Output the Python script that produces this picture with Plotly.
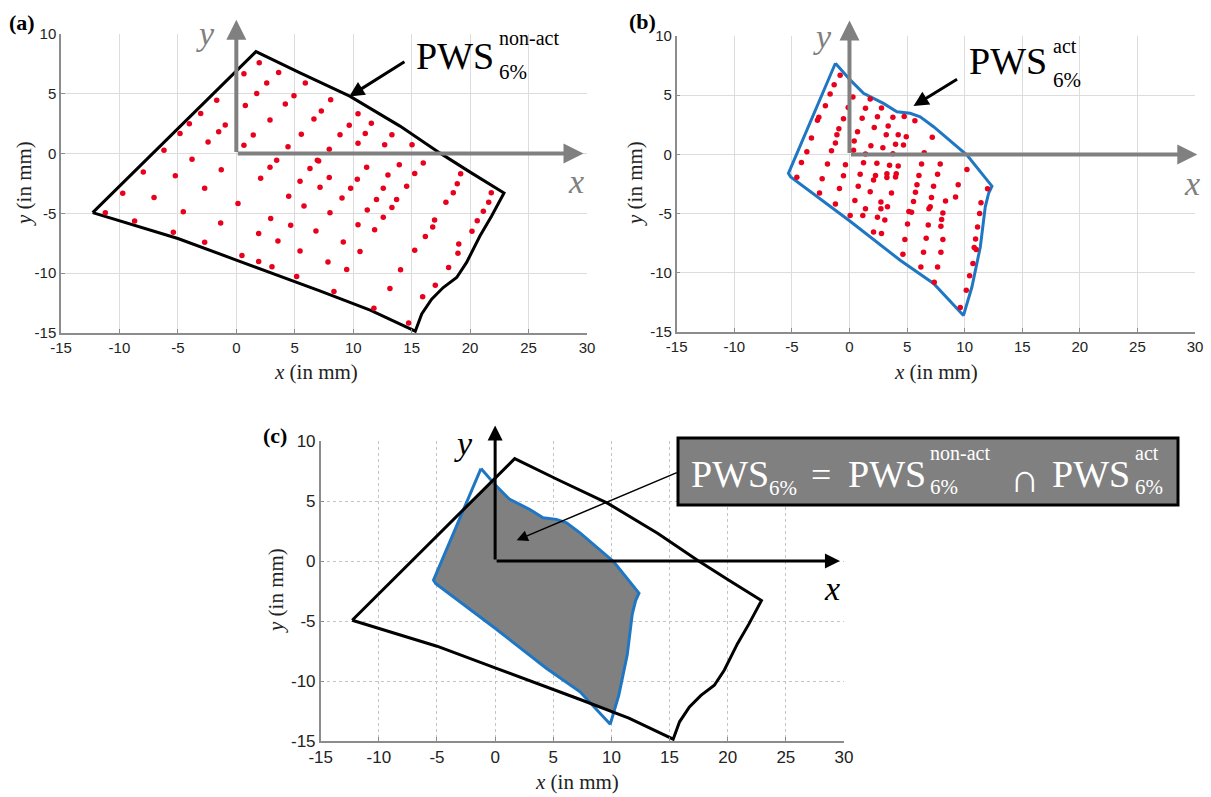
import plotly.graph_objects as go

W, H = 1211, 797

# ---------------- data ----------------
x_ticks = [-15, -10, -5, 0, 5, 10, 15, 20, 25, 30]
x_tick_labels = ['-15', '-10', '-5', '0', '5', '10', '15', '20', '25', '30']
y_ticks = [-15, -10, -5, 0, 5, 10]
y_tick_labels = ['-15', '-10', '-5', '0', '5', '10']

# boundary of PWS non-act (black)
nonact_x = [-12.29, 1.68, 5.45, 9.7, 14.0, 17.4, 20.0, 22.9, 21.84, 20.84, 19.7, 18.85,
            17.7, 16.71, 15.86, 15.31, 11.5, 7.2, 0.0, -5.0]
nonact_y = [-4.94, 8.53, 6.75, 4.8, 2.3, 0.06, -1.55, -3.3, -5.22, -6.89, -9.1, -10.36,
            -11.2, -12.17, -13.4, -14.85, -13.1, -11.5, -8.9, -7.1]

# boundary of PWS act (blue)
act_x = [-1.22, 0.06, 1.22, 2.95, 4.12, 5.27, 6.14, 7.3, 10.2, 12.37, 12.08, 11.79,
         11.36, 10.63, 9.9, 7.3, 4.4, 0.0, -5.1, -5.3]
act_y = [7.7, 6.29, 5.16, 4.31, 3.6, 3.47, 3.18, 2.34, -0.06, -2.68, -3.3, -4.43,
         -7.82, -11.2, -13.6, -10.9, -8.94, -5.6, -1.9, -1.6]

# sample points, panel (a)
a_dot_x = [1.96, 0.65, 3.62, 2.6, 5.9, 1.74, 4.93, -1.68, 0.77, 4.19, -3.05, -4.02, -0.95,
           2.88, 6.64, -4.82, -1.51, 1.45, 5.56, -2.42, -6.19, 0.65, 4.42, -3.79, 3.45, 6.93,
           -7.96, -1.29, 2.88, 6.3, -5.22, 2.08, 5.45, -2.71, -9.72, -7.04, 4.48,
           0.14, 5.79, -11.21, -4.54, 2.94, 4.65, -8.7, -1.34, 6.81, -5.39, 1.91, 3.56, -2.71,
           5.45, 0.48, 1.91, 3.05, 5.16,
           8.07, 7.27, 10.41, 11.55, 9.66, 8.87, 11.03, 13.31, 10.41, 12.69, 15.03, 7.95,
           13.94, 15.99, 7.04, 19.19, 15.26, 12.97, 11.15, 18.9, 7.95, 10.35, 14.57, 12.57,
           7.16, 9.78, 21.81, 18.56,
           9.04, 11.99, 13.71, 17.93, 21.59, 8.01, 11.2, 13.31, 12.57, 21.13, 10.41, 11.83,
           16.96, 16.8, 20.61, 20.16, 16.17, 9.15, 10.58, 15.26, 19.03, 18.96, 7.84, 9.44,
           14.05, 18.16, 17.02, 13.14, 8.35, 15.94, 11.77, 14.74]
a_dot_y = [7.6, 6.67, 6.78, 5.9, 5.9, 5.03, 4.83, 4.47, 4.03, 4.14, 3.36, 2.5, 2.39,
           2.81, 2.89, 1.69, 1.83, 1.56, 1.61, 0.97, 0.28, 0.69, 0.58, -0.47, -0.56, -0.56,
           -1.53, -1.36, -1.14, -1.25, -1.86, -2.06, -2.31, -2.89, -3.31, -3.67, -3.56,
           -4.17, -4.39, -4.94, -4.86, -5.42, -6.0, -5.64, -5.81, -6.47, -6.58, -6.69, -7.31, -7.42,
           -8.14, -8.53, -9.03, -9.47, -10.28,
           4.5, 3.56, 3.33, 2.53, 2.36, 1.58, 1.69, 1.58, 0.86, 0.75, 0.75, 0.36,
           -0.94, -0.78, -0.61, -1.69, -1.67, -1.78, -1.14, -2.53, -2.0, -2.14, -2.72, -2.89,
           -2.81, -2.89, -3.28, -3.28,
           -3.72, -3.83, -3.83, -4.06, -4.06, -4.94, -4.72, -4.5, -5.33, -4.81, -5.94, -6.36,
           -5.56, -6.14, -5.61, -6.5, -6.94, -7.39, -8.19, -8.08, -7.56, -8.33, -9.06, -9.69,
           -9.72, -9.53, -11.0, -11.28, -11.53, -11.97, -12.94, -14.17]

# sample points, panel (b)
b_dot_x = [-0.81, -1.33, -1.68, 0.3, 1.8, -2.09, -0.11, 1.39, 2.78, -2.66, -2.78, -0.52, 1.1,
           2.43, 3.77, 4.75, -0.92, 0.7, 2.15, 3.36, -1.09, -3.3, 3.19, 4.23, 4.93, 0.41,
           -1.22, 1.86, 2.9, 4.0, 4.69, -3.7, -1.56, 0.35, 1.39, 3.77, -4.17, -1.91, -0.35,
           1.22, 2.38, 3.48, 4.23, -4.57, -2.37, -0.52, 0.93, 2.26, 3.25, 3.25, 4.06, 4.0,
           2.09, -2.6, -0.87, 0.76, 1.8, 3.65, -1.22, 0.47, 2.73, 3.3, 1.39, 2.73, 0.06, 1.16,
           2.43, 3.07, 5.16, 5.04, 2.09, 2.78, 4.81, 4.64,
           5.68, 7.19, 6.49, 6.26, 7.88, 10.2, 6.03, 7.65, 5.86, 5.73, 7.3, 9.44, 11.99, 9.21,
           8.34, 7.12, 5.56, 11.42, 7.01, 6.9, 5.39, 8.11, 11.3, 8.0, 6.84, 7.94, 11.12, 6.66,
           8.11, 10.95, 10.83, 11.0, 6.43, 7.94, 10.72, 6.2, 7.65, 10.43, 7.36, 10.14, 9.62]
b_dot_y = [6.68, 5.89, 5.1, 4.85, 4.68, 4.11, 3.97, 3.89, 3.92, 3.13, 2.88, 3.01, 3.05,
           3.18, 3.13, 3.21, 2.17, 1.91, 2.28, 2.39, 1.66, 1.38, 1.66, 1.66, 1.49, 1.13,
           0.96, 0.73, 0.56, 0.85, 0.79, 0.22, 0.3, 0.36, 0.03, 0.05, -0.68, -0.82, -0.88,
           -0.71, -0.74, -0.91, -0.99, -1.92, -2.06, -1.81, -1.67, -1.78, -1.64, -1.95, -1.64, -1.9,
           -2.17, -3.25, -2.88, -2.68, -3.16, -3.27, -4.18, -3.89, -4.01, -4.43, -4.6, -4.6, -5.16, -5.16,
           -5.3, -5.53, -4.82, -5.87, -6.55, -6.69, -7.19, -8.43,
           2.84, 1.44, 0.14, -0.82, -0.82, -1.27, -1.78, -1.67, -2.57, -3.19, -2.68, -2.57, -2.91, -3.59,
           -3.93, -3.64, -3.98, -4.09, -4.43, -4.6, -4.88, -4.94, -4.99, -5.5, -5.96, -6.07, -6.13, -7.08,
           -7.19, -7.14, -7.87, -8.04, -8.27, -8.27, -9.22, -9.51, -9.51, -10.24, -10.8, -11.48, -12.94]

# ---------------- helpers ----------------
def PX(px):
    return px / W


def PY(py):
    return 1 - py / H


def signed_area(P):
    s = 0.0
    for i in range(len(P)):
        x1, y1 = P[i]
        x2, y2 = P[(i + 1) % len(P)]
        s += x1 * y2 - x2 * y1
    return s / 2


def ccw(P):
    return P if signed_area(P) > 0 else P[::-1]


def inside_poly(pt, P):
    x, y = pt
    c = False
    n = len(P)
    for i in range(n):
        x1, y1 = P[i]
        x2, y2 = P[(i + 1) % n]
        if (y1 > y) != (y2 > y):
            xi = x1 + (y - y1) * (x2 - x1) / (y2 - y1)
            if xi > x:
                c = not c
    return c


def seg_int(p1, p2, q1, q2):
    d1x, d1y = p2[0] - p1[0], p2[1] - p1[1]
    d2x, d2y = q2[0] - q1[0], q2[1] - q1[1]
    den = d1x * d2y - d1y * d2x
    if abs(den) < 1e-12:
        return None
    ex, ey = q1[0] - p1[0], q1[1] - p1[1]
    t = (ex * d2y - ey * d2x) / den
    u = (ex * d1y - ey * d1x) / den
    if 0 < t < 1 and 0 < u < 1:
        return t, u
    return None


def intersect(A, B):
    """Greiner-Hormann style intersection of two simple polygons."""
    A = ccw(A)
    B = ccw(B)
    nA, nB = len(A), len(B)
    hits = []
    for i in range(nA):
        a1, a2 = A[i], A[(i + 1) % nA]
        for j in range(nB):
            r = seg_int(a1, a2, B[j], B[(j + 1) % nB])
            if r:
                t, u = r
                p = (a1[0] + t * (a2[0] - a1[0]), a1[1] + t * (a2[1] - a1[1]))
                hits.append((i, t, j, u, p))
    if not hits:
        return A if inside_poly(A[0], B) else B

    def build(P, ke, kt):
        L = []
        for i in range(len(P)):
            L.append(('v', P[i]))
            on = sorted((h[kt], k) for k, h in enumerate(hits) if h[ke] == i)
            for _, k in on:
                L.append(('x', k))
        return L

    LA = build(A, 0, 1)
    LB = build(B, 2, 3)
    posA = {e[1]: n for n, e in enumerate(LA) if e[0] == 'x'}
    posB = {e[1]: n for n, e in enumerate(LB) if e[0] == 'x'}

    def pt(e):
        return hits[e[1]][4] if e[0] == 'x' else e[1]

    start = None
    for k in range(len(hits)):
        n = posA[k]
        a = pt(LA[n])
        b = pt(LA[(n + 1) % len(LA)])
        if inside_poly(((a[0] + b[0]) / 2, (a[1] + b[1]) / 2), B):
            start = k
            break
    out = [hits[start][4]]
    cur, L, n = 'A', LA, posA[start]
    for _ in range(10000):
        n = (n + 1) % len(L)
        e = L[n]
        if e[0] == 'v':
            out.append(e[1])
            continue
        k = e[1]
        if k == start:
            break
        out.append(hits[k][4])
        if cur == 'A':
            cur, L, n = 'B', LB, posB[k]
        else:
            cur, L, n = 'A', LA, posA[k]
    return out


def closed(xs, ys):
    return list(xs) + [xs[0]], list(ys) + [ys[0]]


nonact_poly = list(zip(nonact_x, nonact_y))
act_poly = list(zip(act_x, act_y))
inter = intersect(act_poly, nonact_poly)
inter_x = [p[0] for p in inter]
inter_y = [p[1] for p in inter]

# ---------------- figure ----------------
BLACK = '#000000'
BLUE = '#1f77c4'
RED = '#e8001c'
GRAYARROW = '#808080'
SERIF = 'Liberation Serif'
SANS = 'Liberation Sans'

fig = go.Figure()

na_cx, na_cy = closed(nonact_x, nonact_y)
ac_cx, ac_cy = closed(act_x, act_y)

# (a)
fig.add_trace(go.Scatter(x=na_cx, y=na_cy, mode='lines', line=dict(color=BLACK, width=3),
                         xaxis='x', yaxis='y', hoverinfo='skip'))
fig.add_trace(go.Scatter(x=a_dot_x, y=a_dot_y, mode='markers',
                         marker=dict(color=RED, size=5.5), xaxis='x', yaxis='y'))
# (b)
fig.add_trace(go.Scatter(x=ac_cx, y=ac_cy, mode='lines', line=dict(color=BLUE, width=3),
                         xaxis='x2', yaxis='y2', hoverinfo='skip'))
fig.add_trace(go.Scatter(x=b_dot_x, y=b_dot_y, mode='markers',
                         marker=dict(color=RED, size=5.5), xaxis='x2', yaxis='y2'))
# (c)
ix, iy = closed(inter_x, inter_y)
fig.add_trace(go.Scatter(x=ix, y=iy, mode='lines', fill='toself', fillcolor='#808080',
                         line=dict(width=0, color='#808080'), xaxis='x3', yaxis='y3',
                         hoverinfo='skip'))
fig.add_trace(go.Scatter(x=ac_cx, y=ac_cy, mode='lines', line=dict(color=BLUE, width=3),
                         xaxis='x3', yaxis='y3', hoverinfo='skip'))
fig.add_trace(go.Scatter(x=na_cx, y=na_cy, mode='lines', line=dict(color=BLACK, width=3),
                         xaxis='x3', yaxis='y3', hoverinfo='skip'))


def xax(dom, anchor, dash, fsize):
    return dict(domain=dom, anchor=anchor, range=[-15, 30], tickvals=x_ticks,
                ticktext=x_tick_labels, automargin=False,
                showgrid=True, gridcolor='#dcdcdc' if dash == 'solid' else '#c4c4c4',
                griddash=dash, gridwidth=1, zeroline=False, showline=True,
                linecolor='#8c8c8c', linewidth=1.5, ticks='inside', ticklen=4,
                tickcolor='#8c8c8c', tickfont=dict(family=SANS, size=fsize, color='#222222'),
                fixedrange=True)


def yax(dom, anchor, dash, fsize):
    d = xax(dom, anchor, dash, fsize)
    d['range'] = [-15, 10]
    d['tickvals'] = y_ticks
    d['ticktext'] = y_tick_labels
    return d


fig.update_layout(
    template='none',
    width=W, height=H, autosize=False,
    margin=dict(l=0, r=0, t=0, b=0, pad=0),
    paper_bgcolor='white', plot_bgcolor='white',
    showlegend=False,
    xaxis=xax([PX(61), PX(587)], 'y', 'solid', 15),
    yaxis=yax([PY(333), PY(34)], 'x', 'solid', 15),
    xaxis2=xax([PX(676.7), PX(1195)], 'y2', 'solid', 15),
    yaxis2=yax([PY(332), PY(36)], 'x2', 'solid', 15),
    xaxis3=xax([PX(320.7), PX(844)], 'y3', 'dot', 17),
    yaxis3=yax([PY(741), PY(441)], 'x3', 'dot', 17),
)

ann = []


def arrow(xr, yr, tip, tail, color, width, size=1.0, head=2):
    ann.append(dict(x=tip[0], y=tip[1], ax=tail[0], ay=tail[1], xref=xr, yref=yr,
                    axref=xr, ayref=yr, showarrow=True, arrowhead=head, arrowsize=size,
                    arrowwidth=width, arrowcolor=color, text='', standoff=0))


def text(px, py, s, size, color='#000000', family=SERIF, xanchor='left', angle=0):
    ann.append(dict(x=PX(px), y=PY(py), xref='paper', yref='paper', text=s,
                    showarrow=False, xanchor=xanchor, yanchor='middle', textangle=angle,
                    font=dict(family=family, size=size, color=color)))


# coordinate arrows
arrow('x', 'y', (0, 11.2), (0, 0), GRAYARROW, 4, 1.0)
arrow('x', 'y', (29.7, 0), (0, 0), GRAYARROW, 4, 1.0)
arrow('x2', 'y2', (0, 11.3), (0, 0), GRAYARROW, 4, 1.0)
arrow('x2', 'y2', (30.2, 0), (0, 0), GRAYARROW, 4, 1.0)
arrow('x3', 'y3', (0, 11.3), (0, 0), BLACK, 3, 1.0)
arrow('x3', 'y3', (29.65, 0), (0, 0), BLACK, 3, 1.0)

# pointer arrows
arrow('x', 'y', (9.66, 4.78), (14.51, 7.75), BLACK, 3, 1.0)
arrow('x2', 'y2', (5.56, 4.09), (9.47, 6.43), BLACK, 3, 1.0)
arrow('x3', 'y3', (1.85, 1.73), (15.75, 7.42), BLACK, 1.5, 1.5)

# axis symbol labels
text(206, 33, '<i>y</i>', 34, GRAYARROW, xanchor='center')
text(576, 181, '<i>x</i>', 34, GRAYARROW, xanchor='center')
text(822, 37, '<i>y</i>', 34, GRAYARROW, xanchor='center')
text(1192, 184, '<i>x</i>', 34, GRAYARROW, xanchor='center')
text(463, 443, '<i>y</i>', 34, BLACK, xanchor='center')
text(832, 588, '<i>x</i>', 34, BLACK, xanchor='center')

# PWS labels (a), (b)
text(414, 56, 'PWS', 38)
text(497, 38, 'non-act', 20)
text(497, 72, '6%', 21)
text(967, 61, 'PWS', 38)
text(1051, 46, 'act', 20)
text(1051, 80, '6%', 21)

# equation box (c)
fig.add_shape(type='rect', xref='paper', yref='paper', x0=PX(678), x1=PX(1178),
              y0=PY(505), y1=PY(438), fillcolor='#808080', line=dict(color=BLACK, width=3),
              layer='above')
WH = '#ffffff'
text(689, 474, 'PWS', 38, WH)
text(767, 488, '6%', 21, WH)
text(809, 475, '=', 36, WH)
text(846, 474, 'PWS', 38, WH)
text(928, 453, 'non-act', 20, WH)
text(928, 487, '6%', 21, WH)
text(1008, 478, '∩', 40, WH)
text(1050, 474, 'PWS', 38, WH)
text(1133, 453, 'act', 20, WH)
text(1133, 487, '6%', 21, WH)

# panel letters
text(22, 22, '<b>(a)</b>', 22, xanchor='center')
text(642, 21, '<b>(b)</b>', 22, xanchor='center')
text(275, 435, '<b>(c)</b>', 22, xanchor='center')

# axis titles
text(316, 372, '<i>x</i> (in mm)', 21, '#222222', xanchor='center')
text(936, 372, '<i>x</i> (in mm)', 21, '#222222', xanchor='center')
text(577, 782, '<i>x</i> (in mm)', 21, '#222222', xanchor='center')
text(24, 184, '<i>y</i> (in mm)', 21, '#222222', xanchor='center', angle=-90)
text(635, 184, '<i>y</i> (in mm)', 21, '#222222', xanchor='center', angle=-90)
text(276, 591, '<i>y</i> (in mm)', 21, '#222222', xanchor='center', angle=-90)

fig.update_layout(annotations=ann)
fig.write_html('out.html', config={'displayModeBar': False},
               post_script="document.body.style.margin='0px';document.body.style.padding='0px';")
